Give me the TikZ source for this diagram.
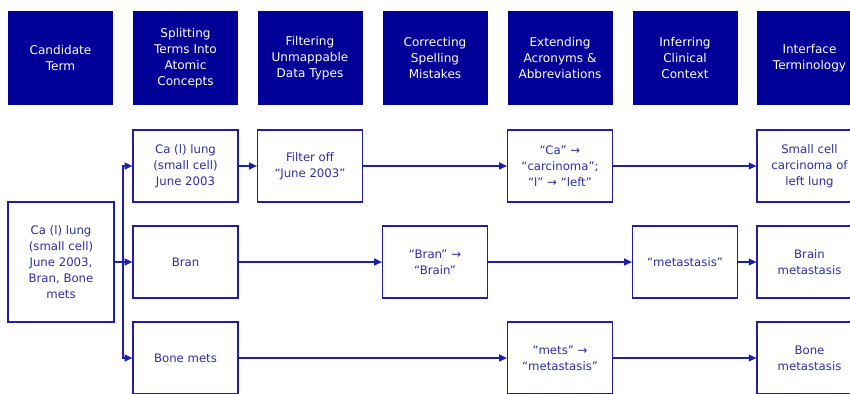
\documentclass[tikz,border=0pt]{standalone}
\usepackage{fontspec}
\setmainfont{DejaVu Sans}
\usetikzlibrary{arrows.meta}

\definecolor{headblue}{HTML}{000099}
\definecolor{boxblue}{HTML}{1E1EA8}
\definecolor{textblue}{HTML}{2E2EA8}

\tikzset{
  header/.style={fill=headblue, text=white, minimum width=3.15cm, minimum height=2.82cm,
    inner sep=0pt, align=center, font=\fontsize{10.3}{13.6}\selectfont},
  termbox/.style={draw=boxblue, line width=1.1pt, fill=white, text=textblue,
    minimum width=3.15cm, minimum height=2.16cm, inner sep=0pt, align=center,
    font=\fontsize{10}{13.6}\selectfont},
  flow/.style={draw=boxblue, line width=1.2pt, -{Triangle[length=6.5pt,width=6pt]}}
}

\begin{document}
\begin{tikzpicture}[x=0.03cm, y=-0.03cm]

    % Frame of the picture
    \useasboundingbox (0,0) rectangle (850,393);
    \clip (0,0) rectangle (850,393);

    % Step headers
    \node[header] (hcand)  at (60.5,58) {Candidate\\Term};
    \node[header] (hsplit) at (185.5,58) {Splitting\\Terms Into\\Atomic\\Concepts};
    \node[header] (hfilt)  at (310,58) {Filtering\\Unmappable\\Data Types};
    \node[header] (hspell) at (435,58) {Correcting\\Spelling\\Mistakes};
    \node[header] (hacro)  at (560,58) {Extending\\Acronyms \&\\Abbreviations};
    \node[header] (hinfer) at (685,58) {Inferring\\Clinical\\Context};
    \node[header] (hiface) at (809.5,58) {Interface\\Terminology};

    % Candidate term
    \node[termbox, minimum height=3.6cm, minimum width=3.18cm] (cand) at (61,262)
      {Ca (l) lung\\(small cell)\\June 2003,\\Bran, Bone\\mets};

    % First row: Ca (l) lung
    \node[termbox] (lung)     at (185.5,166) {Ca (l) lung\\(small cell)\\June 2003};
    \node[termbox] (filter)   at (310,166)   {Filter off\\“June 2003”};
    \node[termbox] (expand)   at (560,166)   {“Ca” →\\“carcinoma”;\\“l” → “left”};
    \node[termbox] (lungout)  at (809.5,166) {Small cell\\carcinoma of\\left lung};

    % Second row: Bran
    \node[termbox] (bran)     at (185.5,262) {Bran};
    \node[termbox] (spell)    at (435,262)   {“Bran” →\\“Brain”};
    \node[termbox] (infer)    at (685,262)   {“metastasis”};
    \node[termbox] (branout)  at (809.5,262) {Brain\\metastasis};

    % Third row: Bone mets
    \node[termbox] (bone)     at (185.5,358) {Bone mets};
    \node[termbox] (mets)     at (560,358)   {“mets” →\\“metastasis”};
    \node[termbox] (boneout)  at (809.5,358) {Bone\\metastasis};

    % Splitting the candidate term
    \coordinate (split) at (123,262);
    \draw[flow] (cand.east) -- (bran.west);
    \draw[flow] (split) |- (lung.west);
    \draw[flow] (split) |- (bone.west);

    % Arrows along the rows
    \draw[flow] (lung) -- (filter);
    \draw[flow] (filter) -- (expand);
    \draw[flow] (expand) -- (lungout);
    \draw[flow] (bran) -- (spell);
    \draw[flow] (spell) -- (infer);
    \draw[flow] (infer) -- (branout);
    \draw[flow] (bone) -- (mets);
    \draw[flow] (mets) -- (boneout);

\end{tikzpicture}
\end{document}
